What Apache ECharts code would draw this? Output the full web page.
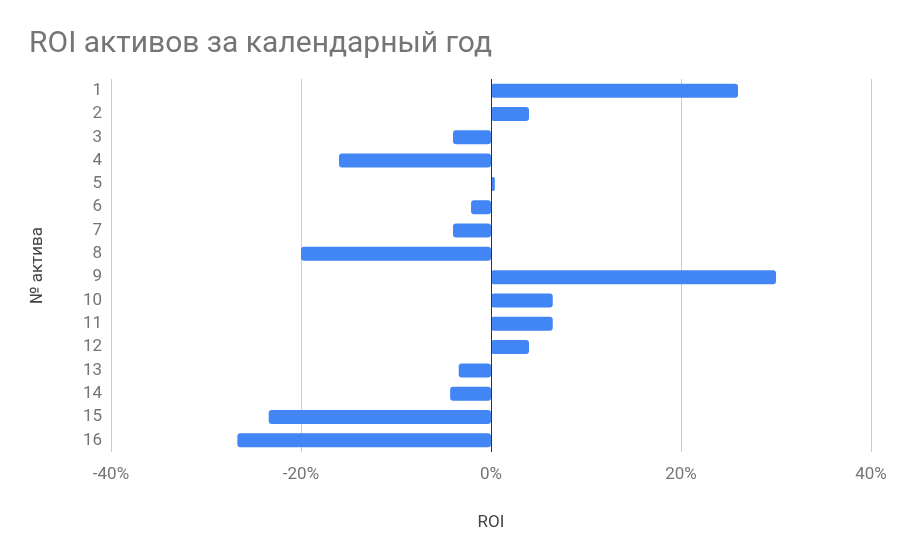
<!DOCTYPE html>
<html>
<head>
<meta charset="utf-8">
<script src="https://cdn.jsdelivr.net/npm/echarts@6/dist/echarts.min.js"></script>
<style>
html,body{margin:0;padding:0;background:#fff;}
#c{width:898px;height:550px;}
</style>
</head>
<body>
<div id="c"></div>
<script>
const titleText = 'ROI активов за календарный год';
const categories = ['1','2','3','4','5','6','7','8','9','10','11','12','13','14','15','16'];
const roiValues = [26, 4, -4, -16, 0.4, -2.1, -4, -20, 30, 6.5, 6.5, 4, -3.4, -4.3, -23.4, -26.7];
const xTicks = [-40, -20, 0, 20, 40];
const xAxisName = 'ROI';
const yAxisName = '№ актива';

const chart = echarts.init(document.getElementById('c'), null, {renderer: 'canvas'});
const font = 'Roboto, "Noto Sans", sans-serif';
chart.setOption({
  animation: false,
  backgroundColor: '#ffffff',
  title: {
    text: titleText,
    left: 29, top: 29, padding: 0,
    textStyle: {fontFamily: font, fontSize: 30, fontWeight: 'normal', color: '#757575'}
  },
  grid: {left: 111, right: 27, top: 79, bottom: 98, containLabel: false},
  xAxis: {
    type: 'value',
    min: xTicks[0], max: xTicks[xTicks.length - 1], interval: 20,
    name: xAxisName, nameLocation: 'middle', nameGap: 62,
    nameTextStyle: {fontFamily: font, fontSize: 17, color: '#444'},
    axisLine: {show: false},
    axisTick: {show: false},
    axisLabel: {fontFamily: font, fontSize: 17, color: '#757575', margin: 14, formatter: '{value}%'},
    splitLine: {show: true, lineStyle: {color: '#cccccc', width: 1}}
  },
  yAxis: {
    type: 'category', data: categories, inverse: true,
    name: yAxisName, nameLocation: 'middle', nameGap: 65, nameRotate: 90,
    nameTextStyle: {fontFamily: font, fontSize: 17, color: '#444'},
    axisLine: {show: false},
    axisTick: {show: false},
    axisLabel: {fontFamily: font, fontSize: 17, color: '#757575', margin: 9}
  },
  series: [{
    type: 'bar',
    data: roiValues,
    barWidth: '60%',
    itemStyle: {color: '#4285F4', borderRadius: 3},
    markLine: {
      silent: true, symbol: 'none',
      label: {show: false},
      lineStyle: {color: '#333333', width: 1, type: 'solid'},
      data: [{xAxis: 0}]
    }
  }]
});
</script>
</body>
</html>
